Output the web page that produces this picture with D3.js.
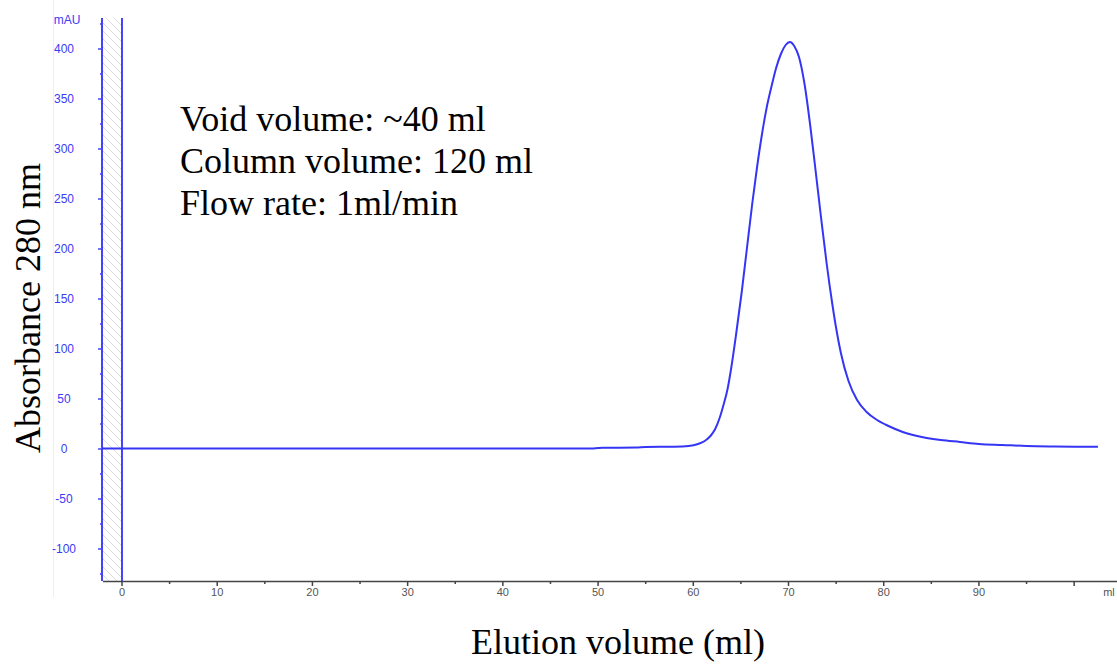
<!DOCTYPE html>
<head>
<meta http-equiv="Content-type" content="text/html;charset=UTF-8">
</head>
<style>
body { margin: 0; background: #fff; }
svg { display: block; }
.ylab { font-family: Arial, "Liberation Sans", sans-serif; font-size: 12px; fill: #3b3bf5; }
.xlab { font-family: Arial, "Liberation Sans", sans-serif; font-size: 11px; fill: #555; }
.serif { font-family: "Times New Roman", "Liberation Serif", serif; font-size: 36px; fill: #000; }
</style>
<svg width="1117" height="664"></svg>
<script src="https://d3js.org/d3.v7.min.js"></script>
<script>

// elution volume (ml) and absorbance (mAU)
var volume = [-2.1, 0, 10, 20, 30, 40, 49.5, 50.5, 54, 55, 58, 59.5, 60.5, 61.2, 61.8, 62.3, 62.8, 63.2, 63.6, 64.0,
  64.5, 65.1, 65.6, 66.2, 66.7, 67.2, 67.7, 68.2, 68.7, 69.2, 69.7, 70.15, 70.6, 71.1, 71.7, 72.3, 72.8, 73.4,
  74.0, 74.6, 75.0, 75.5, 76.3, 77.2, 78.2, 79.3, 80.5, 82.0, 84.0, 86.0, 88.0, 90.0, 92.5, 95.0, 98.0, 102.5];
var absorb = [0.5, 0.5, 0.4, 0.4, 0.4, 0.5, 0.6, 1.2, 1.5, 2, 2.3, 3, 5, 8, 13, 20, 32, 45, 60, 82,
  115, 158, 198, 246, 282, 314, 341, 362, 381, 395, 404, 407, 403, 392, 364, 322, 282, 233,
  186, 145, 121, 96, 68, 49, 37, 29, 23, 17, 12, 9, 7, 5, 4, 3, 2.5, 2.2];

var yMajor = [-100, -50, 0, 50, 100, 150, 200, 250, 300, 350, 400];
var yMinor = [-125, -75, -25, 25, 75, 125, 175, 225, 275, 325, 375, 425];
var xMajor = [0, 10, 20, 30, 40, 50, 60, 70, 80, 90];
var xMinor = [5, 15, 25, 35, 45, 55, 65, 75, 85, 95];
var notes = ["Void volume: ~40 ml", "Column volume: 120 ml", "Flow rate: 1ml/min"];

var svg = d3.select("svg");
var blue = "#4444ff";

var x = d3.scaleLinear().domain([-2.1, 104.5]).range([102, 1117]);
var y = d3.scaleLinear().domain([-132, 431]).range([581, 18]);

// hatched region before injection
var defs = svg.append("defs");
var pat = defs.append("pattern")
    .attr("id", "hatch")
    .attr("patternUnits", "userSpaceOnUse")
    .attr("width", 8).attr("height", 8);
pat.append("path")
    .attr("d", "M-1,-1 L9,9 M-9,-1 L1,9 M7,-1 L17,9")
    .attr("stroke", "#dcdcdc")
    .attr("stroke-width", 1);

svg.append("rect")
    .attr("x", x(-2.1)).attr("y", y(431))
    .attr("width", x(0) - x(-2.1)).attr("height", y(-132) - y(431))
    .attr("fill", "url(#hatch)");

// faint frame line left of the labels
svg.append("line")
    .attr("x1", 53.5).attr("x2", 53.5).attr("y1", 0).attr("y2", 597)
    .attr("stroke", "#eeeeee");

// x axis
var gx = svg.append("g");
gx.append("line")
    .attr("x1", 103).attr("x2", 1117).attr("y1", y(-132) + 0.5).attr("y2", y(-132) + 0.5)
    .attr("stroke", "#444").attr("stroke-width", 1.5);
gx.selectAll(".maj").data(xMajor.concat([100])).enter().append("line")
    .attr("x1", function(d) { return x(d); }).attr("x2", function(d) { return x(d); })
    .attr("y1", y(-132)).attr("y2", y(-132) + 5)
    .attr("stroke", "#444").attr("stroke-width", 1.5);
gx.selectAll(".min").data(xMinor).enter().append("line")
    .attr("x1", function(d) { return x(d); }).attr("x2", function(d) { return x(d); })
    .attr("y1", y(-132)).attr("y2", y(-132) + 3)
    .attr("stroke", "#444").attr("stroke-width", 1.5);
gx.selectAll("text").data(xMajor).enter().append("text")
    .attr("class", "xlab")
    .attr("x", function(d) { return x(d); })
    .attr("y", 596)
    .attr("text-anchor", "middle")
    .text(function(d) { return d; });
gx.append("text").attr("class", "xlab")
    .attr("x", 1109).attr("y", 596).attr("text-anchor", "middle").text("ml");

// y axis
var gy = svg.append("g");
gy.append("line")
    .attr("x1", x(-2.1)).attr("x2", x(-2.1)).attr("y1", y(431)).attr("y2", y(-132))
    .attr("stroke", blue).attr("stroke-width", 2);
gy.append("line")
    .attr("x1", x(0)).attr("x2", x(0)).attr("y1", y(431)).attr("y2", y(-132))
    .attr("stroke", blue).attr("stroke-width", 2);
gy.selectAll(".maj").data(yMajor).enter().append("line")
    .attr("x1", x(-2.1) - 4).attr("x2", x(-2.1))
    .attr("y1", function(d) { return y(d); }).attr("y2", function(d) { return y(d); })
    .attr("stroke", blue).attr("stroke-width", 1.5);
gy.selectAll(".min").data(yMinor).enter().append("line")
    .attr("x1", x(-2.1) - 2).attr("x2", x(-2.1))
    .attr("y1", function(d) { return y(d); }).attr("y2", function(d) { return y(d); })
    .attr("stroke", blue).attr("stroke-width", 1.5);
gy.selectAll("text").data(yMajor).enter().append("text")
    .attr("class", "ylab")
    .attr("x", 64)
    .attr("y", function(d) { return y(d); })
    .attr("dy", "0.35em")
    .attr("text-anchor", "middle")
    .text(function(d) { return d; });
gy.append("text").attr("class", "ylab")
    .attr("x", 67).attr("y", 24).attr("text-anchor", "middle").text("mAU");

// trace
var line = d3.line()
    .x(function(d) { return x(d[0]); })
    .y(function(d) { return y(d[1]); })
    .curve(d3.curveMonotoneX);

svg.append("path")
    .datum(d3.zip(volume, absorb))
    .attr("fill", "none")
    .attr("stroke", "#3535f5")
    .attr("stroke-width", 2)
    .attr("d", line);

// notes
svg.selectAll(".note").data(notes).enter().append("text")
    .attr("class", "serif")
    .attr("x", 180)
    .attr("y", function(d, i) { return 131 + i * 42; })
    .text(function(d) { return d; });

// axis titles
svg.append("text")
    .attr("class", "serif")
    .attr("transform", "translate(40,308) rotate(-90)")
    .attr("text-anchor", "middle")
    .text("Absorbance 280 nm");

svg.append("text")
    .attr("class", "serif")
    .attr("x", 618).attr("y", 654)
    .attr("text-anchor", "middle")
    .text("Elution volume (ml)");

</script>
